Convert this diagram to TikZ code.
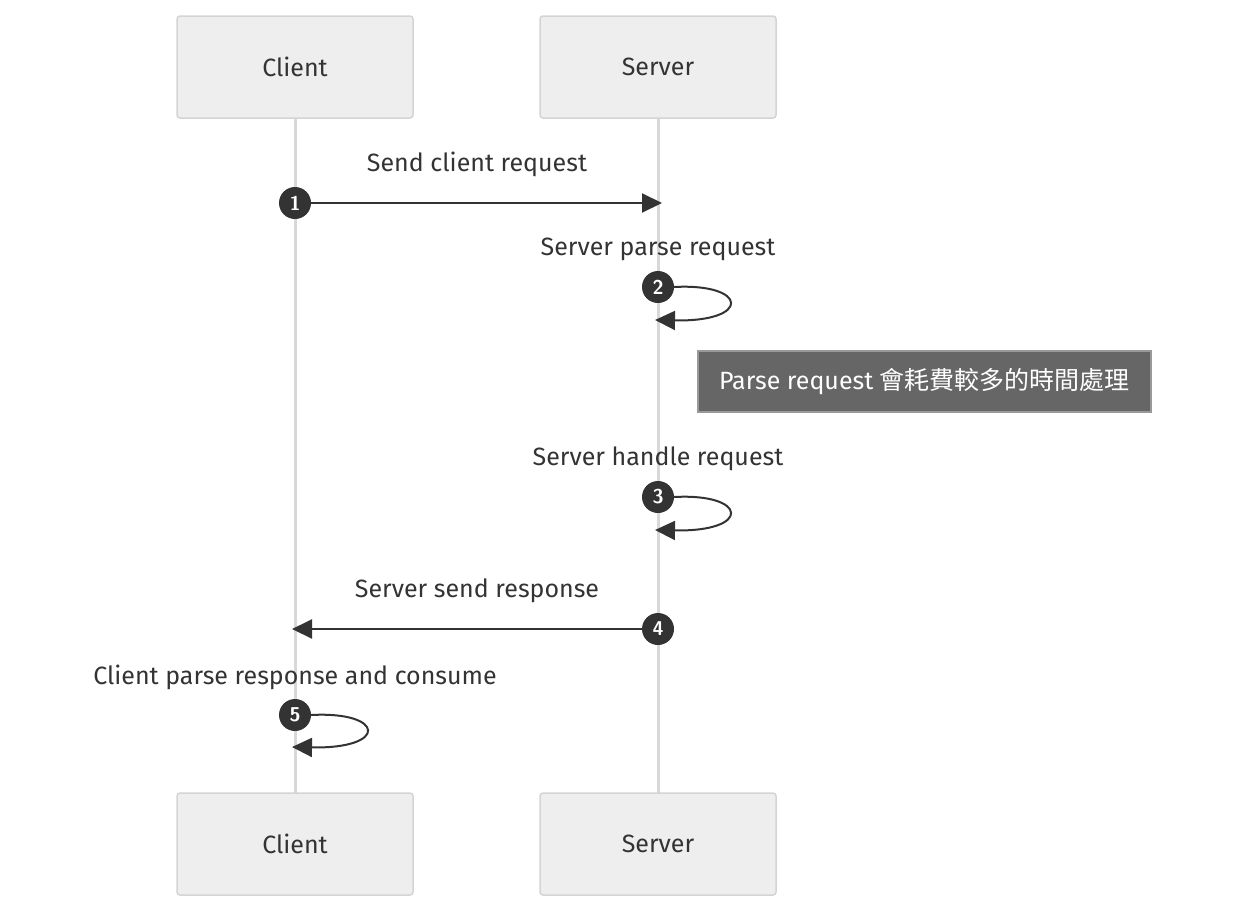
\documentclass[tikz,border=0pt]{standalone}
\usepackage{fontspec}
\setmainfont{Fira Sans}
\newfontfamily\cjk{Noto Sans CJK TC}
\usetikzlibrary{arrows.meta}
\definecolor{actfill}{HTML}{EEEEEE}
\definecolor{actline}{HTML}{D4D4D4}
\definecolor{lifeline}{HTML}{D8D8D8}
\definecolor{ink}{HTML}{333333}
\definecolor{notefill}{HTML}{666666}
\definecolor{noteline}{HTML}{999999}
\tikzset{
  x=1pt, y=-1pt,
  actor/.style={draw=actline, fill=actfill, line width=1.5pt, rounded corners=3pt,
    minimum width=236pt, minimum height=102pt, inner sep=0pt,
    font=\fontsize{25}{29}\selectfont, text=ink},
  life/.style={draw=lifeline, line width=3pt},
  msg/.style={draw=ink, line width=2pt, -{Triangle[length=20pt,width=19pt]}},
  lbl/.style={font=\fontsize{25}{29}\selectfont, text=ink, inner sep=0pt},
  num/.style={circle, fill=ink, text=white, minimum size=32pt, inner sep=0pt,
    font=\sffamily\bfseries\fontsize{20}{22}\selectfont},
  note/.style={draw=noteline, fill=notefill, line width=1.5pt, text=white,
    minimum width=453pt, minimum height=61pt, inner sep=0pt,
    font=\fontsize{25}{29}\selectfont},
}
\begin{document}
\begin{tikzpicture}
\useasboundingbox (0,0) rectangle (1236,913);
% lifelines
\coordinate (cT) at (295,118); \coordinate (cB) at (295,793);
\coordinate (sT) at (658,118); \coordinate (sB) at (658,793);
\draw[life] (cT) -- (cB);
\draw[life] (sT) -- (sB);
% actors
\node[actor] (c1) at (295,67) {Client};
\node[actor] (s1) at (658,67) {Server};
\node[actor] (c2) at (295,844) {Client};
\node[actor] (s2) at (658,844) {Server};
% message 1
\node[lbl] (l1) at (477,164) {Send client request};
\node[num] (n1) at (295,203) {1};
\coordinate (e1) at (662,203);
\draw[msg] (n1) -- (e1);
% message 2
\node[lbl] (l2) at (658,249) {Server parse request};
\node[num] (n2) at (658,287) {2};
\coordinate (e2) at (655,320);
\draw[msg] (n2.east) .. controls (748,283) and (752,322) .. (e2);
% note
\node[note] (nt) at (924.5,381.5) {Parse request {\cjk 會耗費較多的時間處理}};
% message 3
\node[lbl] (l3) at (658,459) {Server handle request};
\node[num] (n3) at (658,497) {3};
\coordinate (e3) at (655,530);
\draw[msg] (n3.east) .. controls (748,493) and (752,532) .. (e3);
% message 4
\node[lbl] (l4) at (477,591) {Server send response};
\node[num] (n4) at (658,629) {4};
\coordinate (e4) at (292,629);
\draw[msg] (n4) -- (e4);
% message 5
\node[lbl] (l5) at (295,677) {Client parse response and consume};
\node[num] (n5) at (295,715) {5};
\coordinate (e5) at (292,747);
\draw[msg] (n5.east) .. controls (385,711) and (389,749) .. (e5);
\end{tikzpicture}
\end{document}
